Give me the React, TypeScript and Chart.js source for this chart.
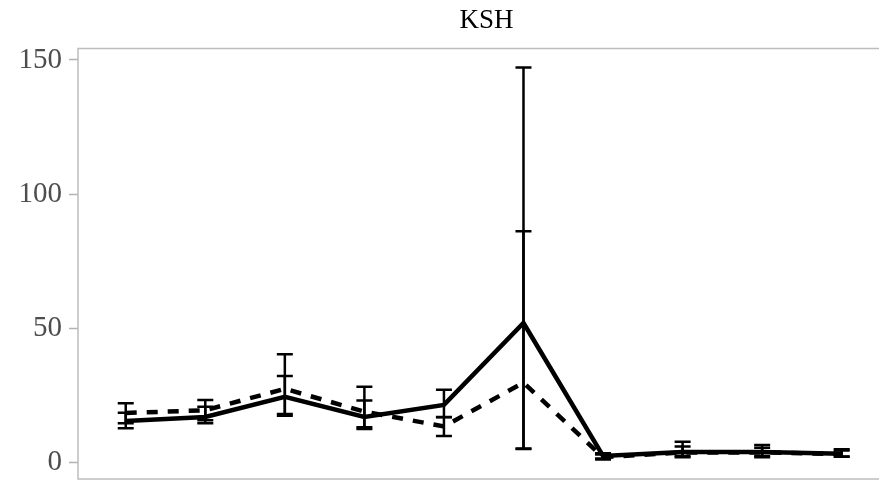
import React, { useEffect, useRef } from "react";
import { Chart, registerables } from "chart.js";

Chart.register(...registerables);

const categories = ["1", "2", "3", "4", "5", "6", "7", "8", "9", "10"];
const yTicks = [0, 50, 100, 150];
const titleText = "KSH";

const solidMean = [15.5, 17, 24.5, 17, 21.5, 52, 2.5, 4, 4, 3.3];
const solidLow = [12.8, 14.7, 18.1, 12.5, 16.9, 5.1, 1.5, 2.0, 2.0, 2.2];
const solidHigh = [18.6, 20.8, 32.3, 23.1, 27.1, 147.2, 3.5, 6.0, 6.6, 4.5];

const dashedMean = [18.5, 19.5, 27.5, 19, 13.5, 29.8, 2, 3.8, 3.8, 3.2];
const dashedLow = [14.7, 15.8, 17.5, 13.2, 9.9, 5.3, 1.2, 2.5, 2.5, 2.3];
const dashedHigh = [22.1, 23.3, 40.4, 28.3, 17.0, 86.2, 3.0, 7.8, 5.5, 5.0];

const errorBars = [
  { low: solidLow, high: solidHigh },
  { low: dashedLow, high: dashedHigh },
];

const panelPlugin = {
  id: "panelBorder",
  beforeDatasetsDraw(chart: any) {
    const { ctx, chartArea } = chart;
    ctx.save();
    ctx.strokeStyle = "#bdbdbd";
    ctx.lineWidth = 1.5;
    ctx.beginPath();
    ctx.moveTo(chartArea.right + 5, chartArea.top);
    ctx.lineTo(chartArea.left, chartArea.top);
    ctx.lineTo(chartArea.left, chartArea.bottom);
    ctx.lineTo(chartArea.right + 5, chartArea.bottom);
    ctx.stroke();
    ctx.restore();
  },
};

const errorBarPlugin = {
  id: "errorBars",
  afterDatasetsDraw(chart: any) {
    const { ctx } = chart;
    const xs = chart.scales.x;
    const ys = chart.scales.y;
    ctx.save();
    ctx.strokeStyle = "#000";
    ctx.lineWidth = 2.5;
    ctx.lineCap = "butt";
    errorBars.forEach((eb) => {
      categories.forEach((_, i) => {
        const x = xs.getPixelForValue(i);
        const yl = ys.getPixelForValue(eb.low[i]);
        const yh = ys.getPixelForValue(eb.high[i]);
        ctx.beginPath();
        ctx.moveTo(x, yl);
        ctx.lineTo(x, yh);
        ctx.moveTo(x - 8, yl);
        ctx.lineTo(x + 8, yl);
        ctx.moveTo(x - 8, yh);
        ctx.lineTo(x + 8, yh);
        ctx.stroke();
      });
    });
    ctx.restore();
  },
};

export default function App() {
  const ref = useRef<HTMLCanvasElement>(null);
  useEffect(() => {
    document.body.style.margin = "0";
    document.body.style.overflow = "hidden";
    const canvas = ref.current!;
    const chart = new Chart(canvas, {
      type: "line",
      data: {
        datasets: [
          {
            data: categories.map((_, i) => ({ x: i, y: solidMean[i] })),
            borderColor: "#000",
            borderWidth: 4.5,
            pointRadius: 0,
            tension: 0,
          },
          {
            data: categories.map((_, i) => ({ x: i, y: dashedMean[i] })),
            borderColor: "#000",
            borderWidth: 4.5,
            borderDash: [11, 10],
            pointRadius: 0,
            tension: 0,
          },
        ],
      },
      options: {
        responsive: false,
        animation: false,
        devicePixelRatio: 1,
        layout: { padding: { left: 0, right: 0, top: 0, bottom: 5 } },
        plugins: {
          legend: { display: false },
          tooltip: { enabled: false },
          title: {
            display: true,
            text: titleText,
            fullSize: false,
            color: "#000",
            font: { family: "Liberation Serif", size: 27, weight: "normal" },
            padding: { top: 5, bottom: 11 },
          },
        },
        scales: {
          x: {
            type: "linear",
            display: false,
            min: -0.6,
            max: 9.67,
          },
          y: {
            type: "linear",
            min: -6.1,
            max: 154.3,
            afterBuildTicks(scale: any) {
              scale.ticks = yTicks.map((v) => ({ value: v }));
            },
            afterFit(scale: any) {
              scale.width = 78;
              scale.paddingTop = 0;
              scale.paddingBottom = 0;
            },
            border: { display: false },
            grid: {
              drawOnChartArea: false,
              drawTicks: true,
              tickLength: 9,
              tickColor: "#b3b3b3",
              tickWidth: 1.5,
            },
            ticks: {
              color: "#4d4d4d",
              padding: 7,
              font: { family: "Liberation Serif", size: 29 },
            },
          },
        },
      },
      plugins: [panelPlugin, errorBarPlugin],
    } as any);
    return () => chart.destroy();
  }, []);
  return (
    <div
      style={{
        position: "fixed",
        left: 0,
        top: 0,
        width: 879,
        height: 484,
        overflow: "hidden",
        background: "#fff",
      }}
    >
      <canvas ref={ref} width={895} height={484} style={{ width: 895, height: 484 }} />
    </div>
  );
}
